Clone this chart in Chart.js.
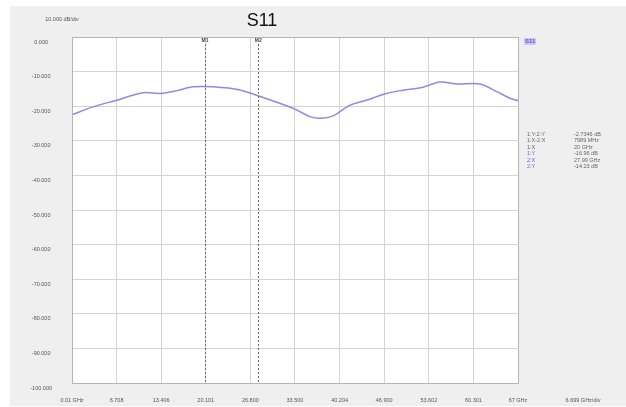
<!DOCTYPE html>
<html>
<head>
<meta charset="utf-8">
<style>
  html, body { margin: 0; padding: 0; background: #fff; }
  #wrap { width: 626px; height: 407px; }
</style>
<script src="https://cdn.jsdelivr.net/npm/chart.js@4/dist/chart.umd.min.js"></script>
</head>
<body>
<div id="wrap"><canvas id="s11Canvas" width="626" height="407"></canvas></div>
<script>
// trace S11
const freqGHz = [0.01, 3.16, 6.47, 10.67, 13.23, 15.78, 18.18, 21.19, 25.24, 28.25, 33.2,
                 35.76, 37.26, 39.21, 41.77, 44.32, 46.72, 49.27, 52.73, 55.28, 57.84,
                 61.29, 63.84, 65.8, 67];
const s11dB = [-22.5, -20.2, -18.4, -16.1, -16.3, -15.5, -14.4, -14.4, -15.3, -17.2, -20.6,
               -23.0, -23.5, -22.8, -19.7, -18.2, -16.6, -15.5, -14.5, -13.0, -13.6,
               -13.6, -15.8, -17.7, -18.4];

const xTickValues = [0.01, 6.708, 13.406, 20.101, 26.8, 33.5, 40.204, 46.9, 53.602, 60.301, 67];
const xTickLabels = ['0.01 GHz', '6.708', '13.406', '20.101', '26.800', '33.500', '40.204',
                     '46.900', '53.602', '60.301', '67 GHz'];
const yTickValues = [0, -10, -20, -30, -40, -50, -60, -70, -80, -90, -100];
const yTickLabels = ['0.000', '-10.000', '-20.000', '-30.000', '-40.000', '-50.000',
                     '-60.000', '-70.000', '-80.000', '-90.000', '-100.000'];

const markerNames = ['M1', 'M2'];
const markerFreqs = [20, 27.99];

const readoutLabels = ['1:Y-2:Y', '1:X-2:X', '1:X', '1:Y', '2:X', '2:Y'];
const readoutValues = ['-2.7346 dB', '7989 MHz', '20 GHz', '-16.96 dB', '27.99 GHz', '-14.23 dB'];

const FONT = 'Liberation Sans, Arial, sans-serif';
const LINE_COLOR = '#8e8ae4';

const framePlugin = {
    id: 'frame',
    beforeDraw(chart) {
        const ctx = chart.ctx;
        const a = chart.chartArea;
        ctx.save();
        ctx.fillStyle = '#efefef';
        ctx.fillRect(10, 6, 616, 400);
        ctx.fillStyle = '#ffffff';
        ctx.fillRect(a.left, a.top, a.right - a.left, a.bottom - a.top);
        ctx.restore();
    },
    afterDatasetsDraw(chart) {
        const ctx = chart.ctx;
        const a = chart.chartArea;
        const xs = chart.scales.x;
        ctx.save();

        // marker lines
        ctx.strokeStyle = '#6a6a6a';
        ctx.lineWidth = 1;
        ctx.setLineDash([2, 2]);
        markerFreqs.forEach((f) => {
            const px = Math.round(xs.getPixelForValue(f)) + 0.5;
            ctx.beginPath();
            ctx.moveTo(px, a.top + 7);
            ctx.lineTo(px, a.bottom);
            ctx.stroke();
        });
        ctx.setLineDash([]);
        ctx.fillStyle = '#444';
        ctx.font = 'bold 5px ' + FONT;
        ctx.textAlign = 'center';
        ctx.textBaseline = 'middle';
        markerFreqs.forEach((f, i) => {
            ctx.fillText(markerNames[i], xs.getPixelForValue(f), a.top + 4);
        });

        // plot border
        ctx.strokeStyle = '#b5b5b5';
        ctx.strokeRect(a.left + 0.5, a.top + 0.5, a.right - a.left, a.bottom - a.top);

        // title and scale notes
        ctx.fillStyle = '#111';
        ctx.font = '18px ' + FONT;
        ctx.textAlign = 'center';
        ctx.fillText('S11', 262, 21);
        ctx.fillStyle = '#555';
        ctx.font = '5.5px ' + FONT;
        ctx.fillText('10.000 dB/div', 62, 19);
        ctx.fillText('6.699 GHz/div', 583, 400);

        // trace legend
        ctx.fillStyle = '#c9c7f3';
        ctx.fillRect(524, 38, 12, 7);
        ctx.fillStyle = '#5a55d8';
        ctx.font = 'bold 6px ' + FONT;
        ctx.textAlign = 'left';
        ctx.fillText('S11', 525, 41.5);

        // marker readout
        ctx.font = '5.5px ' + FONT;
        readoutLabels.forEach((lbl, i) => {
            const y = 134 + i * 6.5;
            ctx.fillStyle = i < 3 ? '#666' : '#6a66dd';
            ctx.fillText(lbl, 527, y);
            ctx.fillStyle = '#666';
            ctx.fillText(readoutValues[i], 574, y);
        });
        ctx.restore();
    }
};

const chart = new Chart(document.getElementById('s11Canvas').getContext('2d'), {
    type: 'line',
    data: {
        datasets: [{
            label: 'S11',
            data: freqGHz.map((f, i) => ({ x: f, y: s11dB[i] })),
            borderColor: LINE_COLOR,
            borderWidth: 1.5,
            pointRadius: 0,
            tension: 0.3,
            fill: false
        }]
    },
    options: {
        responsive: false,
        animation: false,
        layout: { padding: { left: 0, top: 37, right: 108, bottom: 0 } },
        plugins: {
            legend: { display: false },
            tooltip: { enabled: false }
        },
        scales: {
            x: {
                type: 'linear',
                min: 0.01,
                max: 67,
                afterBuildTicks: (scale) => {
                    scale.ticks = xTickValues.map(v => ({ value: v }));
                },
                afterFit: (scale) => { scale.height = 24; },
                grid: { color: '#d4d4d4', drawTicks: false },
                border: { display: false },
                ticks: {
                    autoSkip: false,
                    maxRotation: 0,
                    padding: 14,
                    color: '#555',
                    font: { family: FONT, size: 5.5 },
                    callback: (v, i) => xTickLabels[i]
                }
            },
            y: {
                min: -100,
                max: 0,
                afterBuildTicks: (scale) => {
                    scale.ticks = yTickValues.map(v => ({ value: v }));
                },
                afterFit: (scale) => { scale.width = 72; },
                grid: { color: '#d4d4d4', drawTicks: false },
                border: { display: false },
                ticks: {
                    autoSkip: false,
                    padding: 20,
                    crossAlign: 'center',
                    labelOffset: 5,
                    color: '#555',
                    font: { family: FONT, size: 5.5 },
                    callback: (v, i) => yTickLabels[i]
                }
            }
        }
    },
    plugins: [framePlugin]
});
</script>
</body>
</html>
